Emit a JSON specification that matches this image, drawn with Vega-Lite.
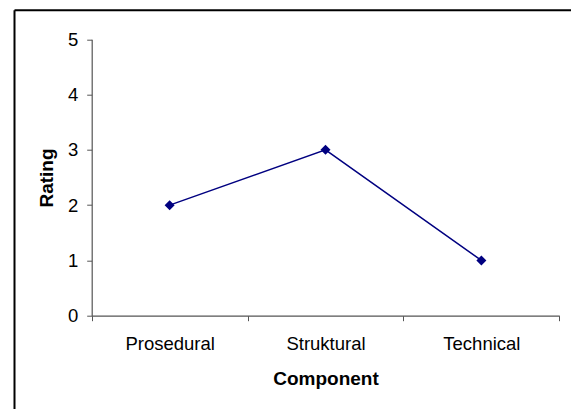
{
  "$schema": "https://vega.github.io/schema/vega-lite/v6.json",
  "width": 557,
  "height": 399.3,
  "autosize": {"type": "none"},
  "padding": {"left": 14, "top": 9.7, "right": 0, "bottom": 0},
  "background": "white",
  "config": {
    "view": {"stroke": null},
    "font": "Liberation Sans",
    "axis": {
      "grid": false,
      "labelFont": "Liberation Sans",
      "titleFont": "Liberation Sans",
      "labelFontSize": 18.5,
      "titleFontSize": 19,
      "labelColor": "black",
      "titleColor": "black",
      "titleFontWeight": "bold",
      "domainColor": "#555",
      "domainWidth": 1.2,
      "tickColor": "#555",
      "tickWidth": 1,
      "tickSize": 5
    }
  },
  "data": {
    "values": [
      {"Component": "Prosedural", "Rating": 2},
      {"Component": "Struktural", "Rating": 3},
      {"Component": "Technical", "Rating": 1}
    ]
  },
  "layer": [
    {
      "encoding": {
        "x": {
          "field": "Component",
          "type": "nominal",
          "sort": null,
          "scale": {"type": "band", "paddingInner": 0, "paddingOuter": 0, "range": [77.7, 545.3]},
          "axis": {"title": "Component", "orient": "bottom", "labelAngle": 0, "tickBand": "extent", "offset": -93.3, "labelPadding": 14, "titlePadding": 16}
        },
        "y": {
          "field": "Rating",
          "type": "quantitative",
          "scale": {"domain": [0, 5], "range": [306, 29.6], "nice": false, "zero": false},
          "axis": {"title": "Rating", "orient": "left", "values": [0, 1, 2, 3, 4, 5], "offset": -77.7, "labelPadding": 9, "titlePadding": 11}
        }
      },
      "layer": [
        {"mark": {"type": "line", "color": "#000080", "strokeWidth": 1.5}},
        {"mark": {"type": "point", "shape": "diamond", "filled": true, "color": "#000080", "opacity": 1, "size": 100}}
      ]
    },
    {
      "mark": {"type": "point", "opacity": 0},
      "encoding": {
        "x": {
          "field": "Rating",
          "type": "quantitative",
          "axis": {"orient": "top", "title": null, "labels": false, "ticks": false, "domainColor": "black", "domainWidth": 2}
        },
        "y": {
          "field": "Rating",
          "type": "quantitative",
          "axis": {"orient": "left", "title": null, "labels": false, "ticks": false, "domainColor": "black", "domainWidth": 2}
        }
      }
    }
  ],
  "resolve": {
    "scale": {"x": "independent", "y": "independent"},
    "axis": {"x": "independent", "y": "independent"}
  }
}
